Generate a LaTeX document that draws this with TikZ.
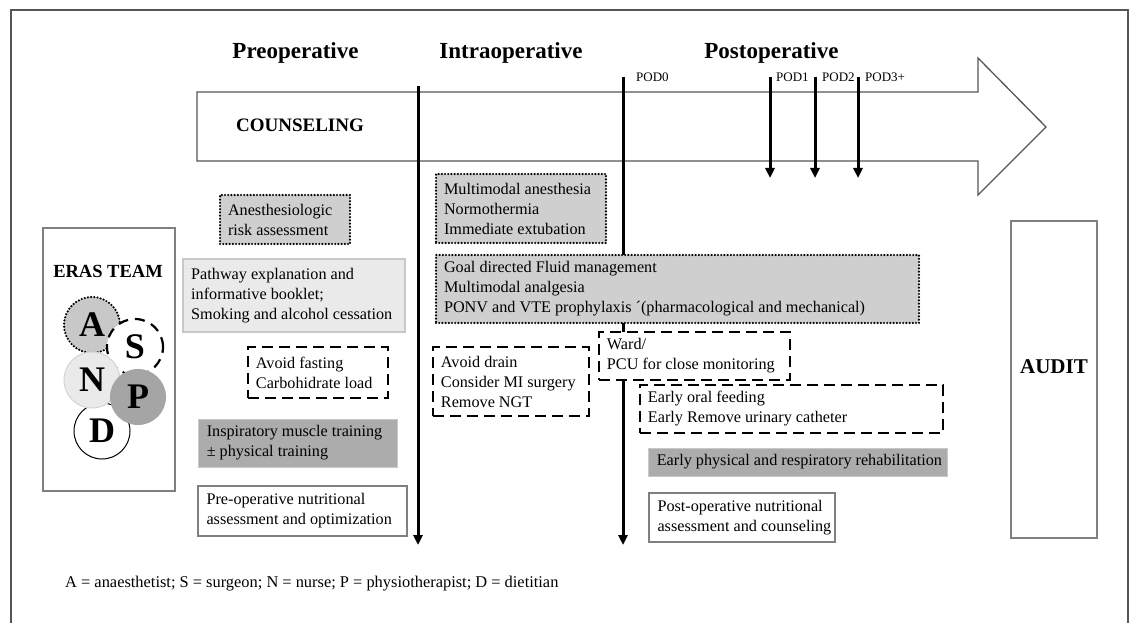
\documentclass[tikz,border=0pt]{standalone}
\usepackage{fontspec}
\setmainfont{Liberation Serif}
\usetikzlibrary{arrows.meta}
\definecolor{framec}{RGB}{85,85,85}
\definecolor{lightfill}{RGB}{207,207,207}
\definecolor{darkfill}{RGB}{172,172,172}
\definecolor{pfill}{RGB}{165,165,165}
\definecolor{afill}{RGB}{200,200,200}
\definecolor{nfill}{RGB}{234,234,234}
\definecolor{softline}{RGB}{200,200,200}
\tikzset{
  boxbase/.style={rectangle, inner sep=0pt},
  lbl/.style={anchor=west, align=left, inner xsep=9pt, inner ysep=0pt, font=\fontsize{16.2}{20}\selectfont},
  dotbox/.style={boxbase, fill=lightfill, draw=black, line width=2.4pt, dash pattern=on 0pt off 3.2pt, line cap=round},
  dashbox/.style={boxbase, fill=white, draw=black, line width=2.5pt, dash pattern=on 11pt off 6pt},
  greybox/.style={boxbase, fill=darkfill, draw=softline, line width=0.8pt},
  plainbox/.style={boxbase, fill=white, draw=gray, line width=1.3pt},
  softbox/.style={boxbase, fill=nfill, draw=softline, line width=2pt},
  sidebox/.style={boxbase, fill=white, draw=gray, line width=1.4pt},
  phase/.style={anchor=base, font=\fontsize{23}{26}\selectfont\bfseries},
  podlbl/.style={anchor=base west, inner sep=0pt, font=\fontsize{13}{15}\selectfont},
  timeline/.style={line width=3pt, -{Triangle[length=10pt,width=9pt]}},
  team/.style={circle, minimum size=56pt, inner sep=0pt, font=\fontsize{36}{36}\selectfont\bfseries}
}
\begin{document}
\begin{tikzpicture}[x=1pt,y=-1pt]
\useasboundingbox (0,0) rectangle (1133,623);
% outer frame
\draw[framec, line width=2pt] (11,623) -- (11,10) -- (1128,10) -- (1128,623);

% phase headers
\node[phase] (pre) at (295.5,59) {Preoperative};
\node[phase] (intra) at (511,59) {Intraoperative};
\node[phase] (post) at (771.5,59) {Postoperative};

% big arrow
\draw[framec, line width=1.3pt, fill=white] (197,92) -- (978,92) -- (978,58) -- (1046,127) -- (978,195) -- (978,161) -- (197,161) -- cycle;
\node[anchor=base, font=\fontsize{19}{22}\selectfont\bfseries] (couns) at (300,132) {COUNSELING};

% POD labels
\node[podlbl] (pod0) at (636,82) {POD0};
\node[podlbl] (pod1) at (776,82) {POD1};
\node[podlbl] (pod2) at (822,82) {POD2};
\node[podlbl] (pod3) at (865,82) {POD3+};

% timeline coordinates
\coordinate (t1a) at (418,86);  \coordinate (t1b) at (418,545);
\coordinate (t0a) at (623,77);  \coordinate (t0b) at (623,545);
\coordinate (d1a) at (770,77);  \coordinate (d1b) at (770,178);
\coordinate (d2a) at (815,77);  \coordinate (d2b) at (815,178);
\coordinate (d3a) at (858,77);  \coordinate (d3b) at (858,178);
\draw[timeline] (t1a) -- (t1b);
\draw[timeline] (t0a) -- (t0b);
\draw[timeline] (d1a) -- (d1b);
\draw[timeline] (d2a) -- (d2b);
\draw[timeline] (d3a) -- (d3b);

% preoperative boxes
\node[dotbox, minimum width=130pt, minimum height=49pt,
  label={[lbl]west:{Anesthesiologic\\risk assessment}}] (anes) at (285,219.5) {};
\node[softbox, minimum width=222pt, minimum height=73pt,
  label={[lbl]west:{Pathway explanation and\\informative booklet;\\Smoking and alcohol cessation}}] (path) at (294,295.5) {};
\node[dashbox, minimum width=140pt, minimum height=51pt,
  label={[lbl]west:{Avoid fasting\\Carbohidrate load}}] (fast) at (318,372.5) {};
\node[greybox, minimum width=199pt, minimum height=48pt,
  label={[lbl]west:{Inspiratory muscle training\\± physical training}}] (insp) at (297.5,443) {};
\node[plainbox, minimum width=209pt, minimum height=50pt,
  label={[lbl]west:{Pre-operative nutritional\\assessment and optimization}}] (prenut) at (302.5,511) {};

% intraoperative boxes
\node[dotbox, minimum width=170pt, minimum height=69pt,
  label={[lbl]west:{Multimodal anesthesia\\Normothermia\\Immediate extubation}}] (intra1) at (521,208.5) {};
\node[dotbox, minimum width=483pt, minimum height=68pt,
  label={[lbl]west:{Goal directed Fluid management\\Multimodal analgesia\\PONV and VTE prophylaxis ´(pharmacological and mechanical)}}] (goal) at (677.5,289) {};
\node[dashbox, minimum width=156pt, minimum height=69pt,
  label={[lbl]west:{Avoid drain\\Consider MI surgery\\Remove NGT}}] (drain) at (511,381.5) {};

% postoperative boxes
\node[dashbox, minimum width=191pt, minimum height=48pt,
  label={[lbl]west:{Ward/\\PCU for close monitoring}}] (ward) at (694.5,356) {};
\node[dashbox, minimum width=303pt, minimum height=48pt,
  label={[lbl]west:{Early oral feeding\\Early Remove urinary catheter}}] (oral) at (791.5,409) {};
\node[greybox, minimum width=299pt, minimum height=28pt,
  label={[lbl]west:{Early physical and respiratory rehabilitation}}] (rehab) at (797.5,462) {};
\node[plainbox, minimum width=186pt, minimum height=49pt,
  label={[lbl]west:{Post-operative nutritional\\assessment and counseling}}] (postnut) at (742,517.5) {};

% ERAS team
\node[sidebox, minimum width=132pt, minimum height=263pt] (eras) at (109,359.5) {};
\node[anchor=base, font=\fontsize{18.5}{20}\selectfont\bfseries] (erast) at (108,277) {ERAS TEAM};
\node[team, draw=black, line width=1pt, fill=white] (D) at (102,431) {D};
\node[team, fill=afill, draw=black, line width=2.4pt, dash pattern=on 0pt off 3.2pt, line cap=round] (A) at (92,325) {A};
\node[team, fill=white, draw=black, line width=2.2pt, dash pattern=on 10pt off 7pt] (S) at (135,347) {S};
\node[team, fill=nfill, draw=nfill!90!black, line width=1pt] (N) at (92,380) {N};
\node[team, fill=pfill] (P) at (138,397) {P};

% AUDIT
\node[sidebox, minimum width=86pt, minimum height=317pt] (audit) at (1054,379.5) {};
\node[anchor=base, font=\fontsize{21}{22}\selectfont\bfseries] (auditt) at (1054,373) {AUDIT};

% legend
\node[anchor=base west, inner sep=0pt, font=\fontsize{16.4}{18}\selectfont] (legend) at (65,587) {A = anaesthetist; S = surgeon; N = nurse; P = physiotherapist; D = dietitian};
\end{tikzpicture}
\end{document}
